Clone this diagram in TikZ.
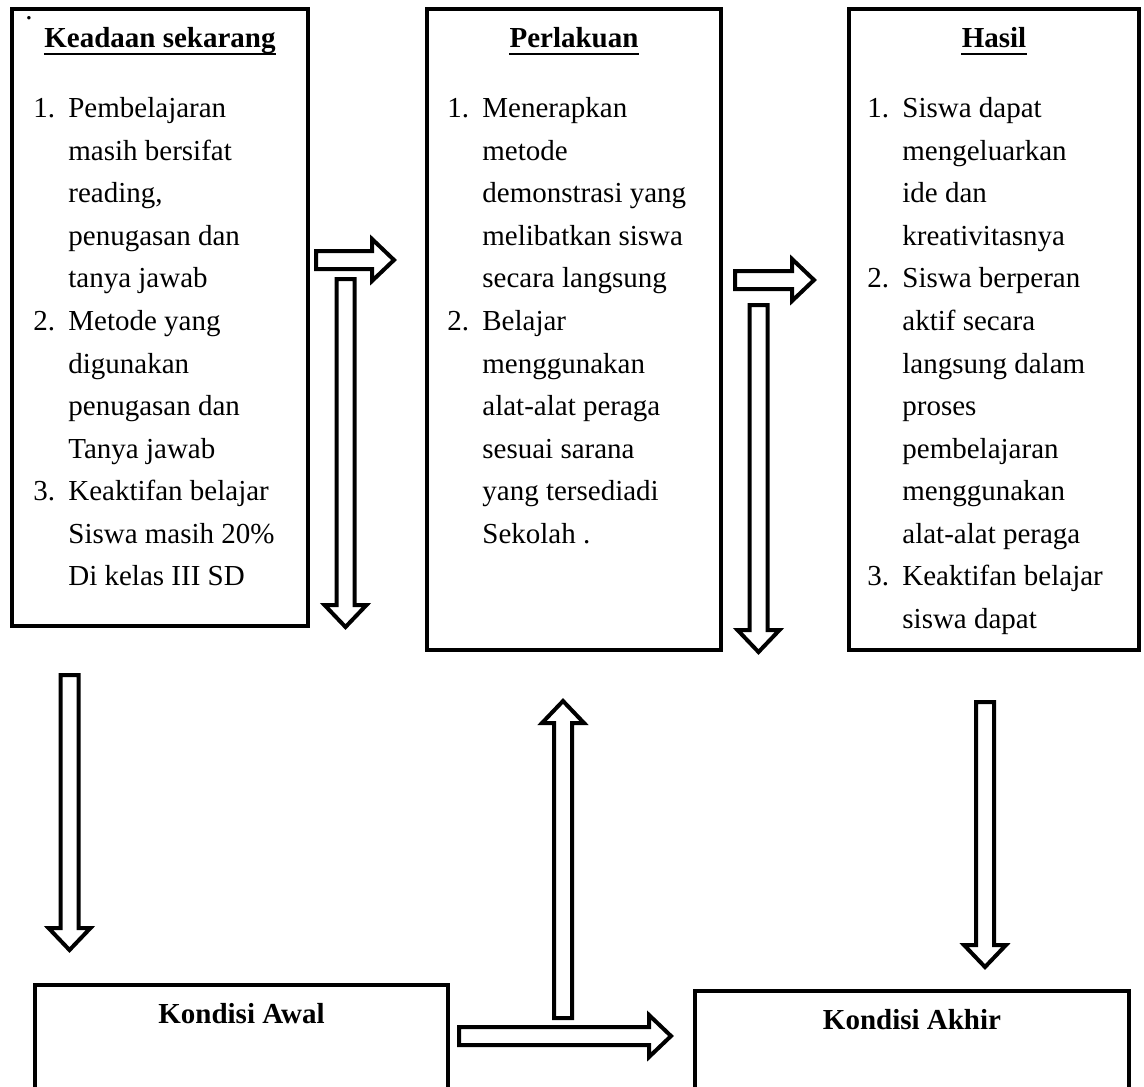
\documentclass[tikz,border=0pt]{standalone}
\usepackage{fontspec}
\setmainfont{Liberation Serif}
\usepackage{tikz}
\usetikzlibrary{positioning}
\newcommand{\txtsize}{\fontsize{14.5}{21.25}\selectfont}
\begin{document}
\begin{tikzpicture}[x=0.5pt,y=-0.5pt,
  box/.style={draw,line width=2pt,inner sep=0pt,outer sep=0pt,anchor=north west},
  ttl/.style={font=\txtsize\bfseries,inner sep=0pt,anchor=base},
  ul/.style={line width=1pt},
  lst/.style={font=\txtsize,inner sep=0pt,anchor=base west,align=left},
  blk/.style={draw,line width=2pt,fill=white,line join=miter},
  pics/fatarrow/.style={code={
    \draw[blk] (0,-9) -- (#1-22,-9) -- (#1-22,-21) -- (#1,0) -- (#1-22,21) -- (#1-22,9) -- (0,9) -- cycle;}}]
\useasboundingbox (0,0) rectangle (1144,1086);
\clip (0,0) rectangle (1144,1086);
\node[box,minimum width=148pt,minimum height=308.5pt] (ks) at (12,9) {};
\node[box,minimum width=147pt,minimum height=320.5pt] (pl) at (427,9) {};
\node[box,minimum width=145pt,minimum height=320.5pt] (hs) at (849,9) {};
\node[box,minimum width=206.5pt,minimum height=67.5pt] (ka) at (35,985) {};
\node[box,minimum width=217pt,minimum height=64.5pt] (kk) at (695,991) {};
\node[font=\txtsize,inner sep=0pt,anchor=base] (dot) at (29,20) {.};
\node[ttl] (ksT) at ([yshift=-19.5pt]ks.north) {Keadaan sekarang};
\node[ttl] (plT) at ([yshift=-19.5pt]pl.north) {Perlakuan};
\node[ttl] (hsT) at ([yshift=-19.5pt]hs.north) {Hasil};
\draw[ul] ([yshift=-3pt]ksT.base west) -- ([yshift=-3pt]ksT.base east);
\draw[ul] ([yshift=-3pt]plT.base west) -- ([yshift=-3pt]plT.base east);
\draw[ul] ([yshift=-3pt]hsT.base west) -- ([yshift=-3pt]hsT.base east);
\node[ttl] (kaT) at ([yshift=-19pt]ka.north) {Kondisi Awal};
\node[ttl] (kkT) at ([yshift=-19pt]kk.north) {Kondisi Akhir};
\node[lst] (ksL) at ([xshift=10.5pt,yshift=-54.5pt]ks.north west) {%
  \begin{tabular}[t]{@{}p{17.5pt}@{}l@{}}
  1. & Pembelajaran\\ & masih bersifat\\ & reading,\\ & penugasan dan\\ & tanya jawab\\
  2. & Metode yang\\ & digunakan\\ & penugasan dan\\ & Tanya jawab\\
  3. & Keaktifan belajar\\ & Siswa masih 20\%\\ & Di kelas III SD
  \end{tabular}};
\node[lst] (plL) at ([xshift=10pt,yshift=-54.5pt]pl.north west) {%
  \begin{tabular}[t]{@{}p{17.5pt}@{}l@{}}
  1. & Menerapkan\\ & metode\\ & demonstrasi yang\\ & melibatkan siswa\\ & secara langsung\\
  2. & Belajar\\ & menggunakan\\ & alat-alat peraga\\ & sesuai sarana\\ & yang tersediadi\\ & Sekolah .
  \end{tabular}};
\node[lst] (hsL) at ([xshift=9pt,yshift=-54.5pt]hs.north west) {%
  \begin{tabular}[t]{@{}p{17.5pt}@{}l@{}}
  1. & Siswa dapat\\ & mengeluarkan\\ & ide dan\\ & kreativitasnya\\
  2. & Siswa berperan\\ & aktif secara\\ & langsung dalam\\ & proses\\ & pembelajaran\\ & menggunakan\\ & alat-alat peraga\\
  3. & Keaktifan belajar\\ & siswa dapat
  \end{tabular}};
\coordinate (a1) at (316,260);
\coordinate (a2) at (345.5,279);
\coordinate (a3) at (735,280);
\coordinate (a4) at (758.5,305);
\coordinate (a5) at (69.5,675);
\coordinate (a6) at (985,702);
\coordinate (a7) at (459,1036);
\coordinate (a8) at (563,1018);
\pic at (a1) {fatarrow=78};
\pic[rotate=-90] at (a2) {fatarrow=348};
\pic at (a3) {fatarrow=79};
\pic[rotate=-90] at (a4) {fatarrow=347};
\pic[rotate=-90] at (a5) {fatarrow=275};
\pic[rotate=-90] at (a6) {fatarrow=265};
\pic at (a7) {fatarrow=212};
\pic[rotate=90] at (a8) {fatarrow=317};
\end{tikzpicture}
\end{document}
